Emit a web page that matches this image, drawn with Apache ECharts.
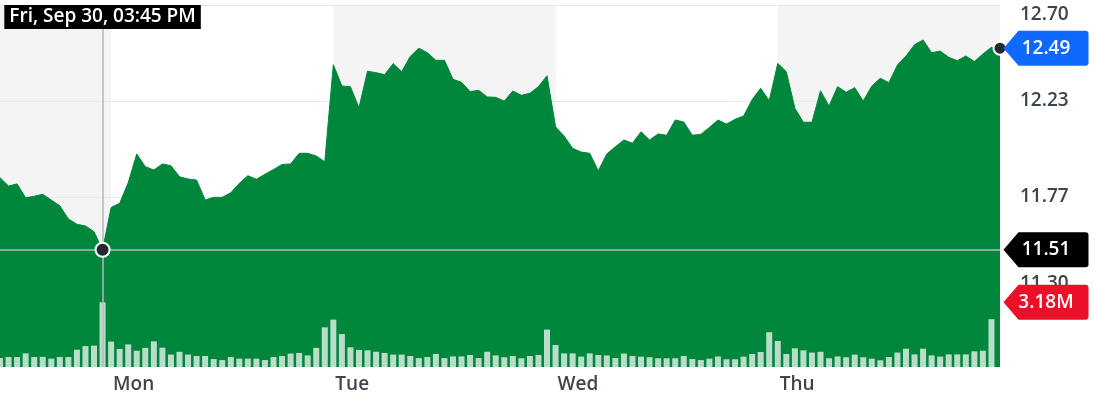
<!DOCTYPE html>
<html>
<head>
    <meta charset="utf-8" />
    <script type="text/javascript" src="https://cdn.jsdelivr.net/npm/echarts@6/dist/echarts.min.js"></script>
    <title></title>
    <style>
        html, body { margin: 0; padding: 0; background: #fff; }
    </style>
</head>
<body>
    <div id="main" style="width: 1094px;height:398px;"></div>
    <script type="text/javascript">
    // trading days shown (5D view, 15 minute bars)
    var dayNames = ['Fri', 'Mon', 'Tue', 'Wed', 'Thu'];
    var dayDates = ['Sep 30', 'Oct 3', 'Oct 4', 'Oct 5', 'Oct 6'];
    var dayFirstBar = [12 * 60 + 45, 9 * 60 + 30, 9 * 60 + 30, 9 * 60 + 30, 9 * 60 + 30]; // minutes
    var dayBarCounts = [13, 26, 26, 26, 27];
    var shadedDays = [0, 2, 4]; // Fri, Tue, Thu

    var prices = [
        11.86, 11.82, 11.83, 11.763, 11.77, 11.78, 11.752, 11.724, 11.66, 11.634, 11.626, 11.598, 11.51,
        11.716, 11.736, 11.836, 11.976, 11.914, 11.898, 11.927, 11.919, 11.865, 11.854, 11.849, 11.752, 11.765,
        11.765, 11.787, 11.833, 11.87, 11.853, 11.877, 11.90, 11.925, 11.927, 11.979, 11.979, 11.966, 11.938,
        12.41, 12.306, 12.303, 12.20, 12.378, 12.371, 12.361, 12.415, 12.376, 12.45, 12.49, 12.468, 12.431,
        12.431, 12.339, 12.324, 12.279, 12.285, 12.253, 12.251, 12.233, 12.282, 12.261, 12.271, 12.303, 12.356,
        12.108, 12.063, 12.003, 11.985, 11.979, 11.894, 11.976, 12.011, 12.044, 12.028, 12.084, 12.044, 12.073,
        12.067, 12.141, 12.131, 12.067, 12.071, 12.105, 12.141, 12.121, 12.144, 12.16, 12.24, 12.295, 12.235,
        12.416, 12.376, 12.198, 12.13, 12.13, 12.283, 12.209, 12.303, 12.276, 12.298, 12.233, 12.306, 12.344,
        12.322, 12.408, 12.452, 12.507, 12.53, 12.468, 12.476, 12.446, 12.429, 12.452, 12.425, 12.462, 12.494,
        12.49
    ];
    // volume in millions
    var volumes = [
        0.44, 0.49, 0.49, 0.67, 0.49, 0.50, 0.41, 0.49, 0.49, 0.85, 1.03, 1.05, 3.18,
        1.25, 0.89, 1.11, 0.80, 0.94, 1.26, 0.95, 0.61, 0.75, 0.61, 0.54, 0.54, 0.39,
        0.34, 0.49, 0.41, 0.41, 0.41, 0.34, 0.49, 0.54, 0.66, 0.69, 0.57, 0.94, 1.95,
        2.33, 1.62, 0.97, 0.84, 0.82, 0.75, 0.69, 0.61, 0.61, 0.54, 0.44, 0.49, 0.64,
        0.44, 0.52, 0.52, 0.59, 0.44, 0.75, 0.57, 0.48, 0.54, 0.43, 0.54, 0.59, 1.84,
        1.08, 0.67, 0.67, 0.51, 0.67, 0.59, 0.57, 0.44, 0.66, 0.54, 0.51, 0.48, 0.43,
        0.43, 0.43, 0.54, 0.39, 0.34, 0.41, 0.52, 0.38, 0.38, 0.51, 0.64, 0.74, 1.71,
        1.28, 0.64, 0.92, 0.82, 0.71, 0.75, 0.43, 0.52, 0.48, 0.61, 0.48, 0.41, 0.33,
        0.49, 0.71, 0.90, 0.62, 0.90, 0.57, 0.51, 0.62, 0.62, 0.62, 0.77, 0.80, 2.35,
        null
    ];
    var priceTicks = [11.30, 11.7667, 12.2333, 12.70];
    var hoverIndex = 12;      // crosshair position
    var lastPrice = 12.49;

    var green = '#00873c';
    var tagPath = 'path://M15,0 L82,0 Q85,0 85,3 L85,32 Q85,35 82,35 L15,35 L0,17.5 Z';

    function fmtTime(min) {
        var h = Math.floor(min / 60), m = min % 60;
        var ampm = h >= 12 ? 'PM' : 'AM';
        var h12 = h % 12 || 12;
        return (h12 < 10 ? '0' : '') + h12 + ':' + (m < 10 ? '0' : '') + m + ' ' + ampm;
    }

    // build category labels + day boundaries
    var cats = [];
    var dayStart = [];
    for (var d = 0; d < dayNames.length; d++) {
        dayStart.push(cats.length);
        for (var k = 0; k < dayBarCounts[d]; k++) {
            cats.push(dayNames[d] + ', ' + dayDates[d] + ', ' + fmtTime(dayFirstBar[d] + k * 15));
        }
    }
    var bands = shadedDays.map(function (d) {
        var end = d + 1 < dayStart.length ? dayStart[d + 1] : cats.length - 1;
        return [{ xAxis: dayStart[d] }, { xAxis: end }];
    });

    var labelFont = 'Open Sans';
    var myChart = echarts.init(document.getElementById('main'));
    var option = {
        animation: false,
        textStyle: { fontFamily: labelFont },
        grid: { left: 0, right: 94, top: 5, bottom: 31 },
        xAxis: {
            type: 'category',
            data: cats,
            boundaryGap: false,
            axisLine: { show: false },
            axisTick: { show: false },
            splitLine: { show: false },
            axisLabel: {
                interval: function (i) { return dayStart.indexOf(i) > 0; },
                formatter: function (v) { return v.slice(0, 3); },
                align: 'left',
                margin: 8,
                color: '#3e454c',
                fontSize: 19,
                fontWeight: 600,
                padding: [0, 0, 0, 2]
            },
            z: 2
        },
        yAxis: [{
            type: 'value',
            position: 'right',
            min: 10.94,
            max: 12.70,
            axisLine: { show: false },
            axisTick: { show: false, customValues: priceTicks },
            axisLabel: {
                customValues: priceTicks,
                formatter: function (v) { return v.toFixed(2); },
                margin: 20,
                color: '#3e454c',
                fontSize: 19,
                fontWeight: 600,
                verticalAlignMaxLabel: 'top',
                verticalAlignMinLabel: 'bottom'
            },
            splitLine: { lineStyle: { color: '#e8e8e8', width: 1 } },
            z: 2
        }, {
            type: 'value',
            show: false,
            min: 0,
            max: 17.8
        }],
        series: [{
            name: 'Price',
            type: 'line',
            data: prices,
            symbol: 'none',
            z: 3,
            lineStyle: { color: green, width: 1 },
            areaStyle: { color: green, opacity: 1, origin: 'start' },
            markArea: {
                silent: true,
                z: 1,
                itemStyle: { color: '#f4f4f4' },
                data: bands
            },
            markLine: {
                silent: true,
                symbol: 'none',
                label: { show: false },
                lineStyle: { color: '#b4b8bd', width: 1.5, type: 'solid' },
                data: [{ xAxis: hoverIndex }, { yAxis: prices[hoverIndex] }]
            },
            markPoint: {
                silent: true,
                z: 6,
                data: [{
                    coord: [hoverIndex, 12.70],
                    symbolSize: 0,
                    label: {
                        show: true,
                        position: 'bottom',
                        distance: 0,
                        formatter: cats[hoverIndex],
                        color: '#fff',
                        backgroundColor: '#000',
                        fontSize: 19,
                        fontWeight: 600,
                        lineHeight: 20,
                        padding: [2, 5, 2, 5]
                    }
                }, {
                    coord: [hoverIndex, prices[hoverIndex]],
                    symbol: 'circle',
                    symbolSize: 14,
                    itemStyle: { color: '#232a31', borderColor: '#fff', borderWidth: 2 },
                    label: { show: false }
                }, {
                    coord: [cats.length - 1, lastPrice],
                    symbol: 'circle',
                    symbolSize: 13,
                    itemStyle: { color: '#232a31', borderColor: '#fff', borderWidth: 2 },
                    label: { show: false }
                }, {
                    coord: [cats.length - 1, lastPrice],
                    symbol: tagPath,
                    symbolSize: [85, 35],
                    symbolOffset: [46, 0],
                    itemStyle: { color: '#0f69ff' },
                    label: { show: true, position: 'inside', formatter: lastPrice.toFixed(2), color: '#fff', fontSize: 19, fontWeight: 600 }
                }, {
                    coord: [cats.length - 1, prices[hoverIndex]],
                    symbol: tagPath,
                    symbolSize: [85, 35],
                    symbolOffset: [46, 0],
                    itemStyle: { color: '#000' },
                    label: { show: true, position: 'inside', formatter: prices[hoverIndex].toFixed(2), color: '#fff', fontSize: 19, fontWeight: 600 }
                }]
            }
        }, {
            name: 'Volume',
            type: 'bar',
            yAxisIndex: 1,
            data: volumes,
            barWidth: 6,
            z: 4,
            itemStyle: { color: 'rgba(255,255,255,0.72)' },
            markPoint: {
                silent: true,
                z: 6,
                data: [{
                    coord: [cats.length - 1, volumes[hoverIndex]],
                    symbol: tagPath,
                    symbolSize: [85, 35],
                    symbolOffset: [46, 0],
                    itemStyle: { color: '#eb0f29' },
                    label: { show: true, position: 'inside', formatter: volumes[hoverIndex].toFixed(2) + 'M', color: '#fff', fontSize: 19, fontWeight: 600 }
                }]
            }
        }]
    };
    myChart.setOption(option);
    </script>
</body>
</html>
